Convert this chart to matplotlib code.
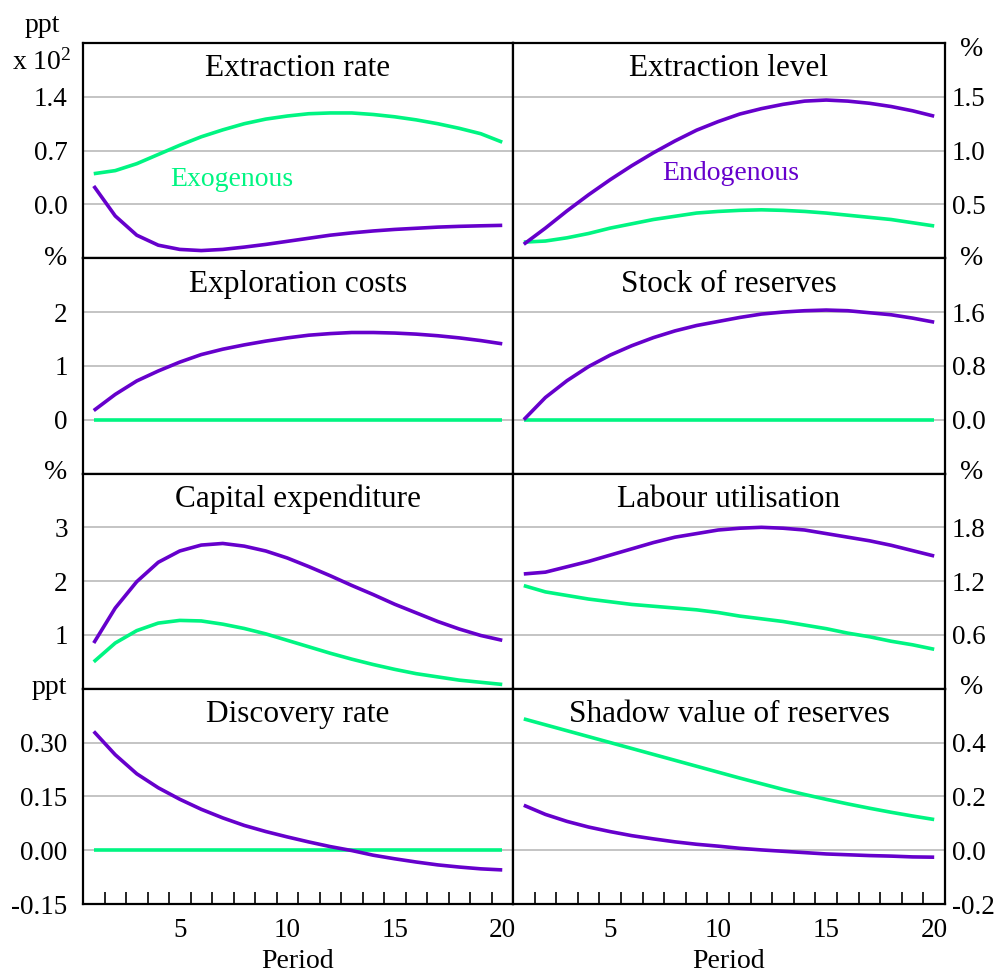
import numpy as np
from matplotlib import pyplot as plt

plt.rcParams['font.family'] = ['Liberation Serif', 'DejaVu Serif']
plt.rcParams['mathtext.fontset'] = 'custom'
plt.rcParams['mathtext.rm'] = 'Liberation Serif'
plt.rcParams['mathtext.it'] = 'Liberation Serif'

periods = list(range(1, 21))

# panel data: exogenous (green) and endogenous (purple)
ext_rate_exo = [0.40, 0.44, 0.53, 0.65, 0.77, 0.88, 0.97, 1.05, 1.11, 1.15,
                1.18, 1.19, 1.19, 1.17, 1.14, 1.10, 1.05, 0.99, 0.92, 0.81]
ext_rate_endo = [0.24, -0.15, -0.40, -0.53, -0.585, -0.60, -0.585, -0.555, -0.52, -0.48,
                 -0.44, -0.40, -0.37, -0.345, -0.325, -0.31, -0.295, -0.285, -0.278, -0.272]

ext_level_exo = [0.15, 0.16, 0.19, 0.23, 0.28, 0.32, 0.36, 0.39, 0.42, 0.435,
                 0.445, 0.45, 0.445, 0.435, 0.42, 0.40, 0.38, 0.36, 0.33, 0.30]
ext_level_endo = [0.13, 0.28, 0.44, 0.59, 0.73, 0.86, 0.98, 1.09, 1.19, 1.27,
                  1.34, 1.39, 1.43, 1.46, 1.47, 1.46, 1.44, 1.41, 1.37, 1.32]

expl_cost_exo = [0.0] * 20
expl_cost_endo = [0.17, 0.47, 0.72, 0.905, 1.07, 1.21, 1.31, 1.39, 1.46, 1.52,
                  1.57, 1.60, 1.62, 1.62, 1.61, 1.59, 1.56, 1.52, 1.47, 1.41]

stock_exo = [0.0] * 20
stock_endo = [0.0, 0.33, 0.58, 0.79, 0.96, 1.10, 1.22, 1.32, 1.40, 1.46,
              1.52, 1.57, 1.60, 1.62, 1.63, 1.62, 1.59, 1.56, 1.51, 1.45]

capex_exo = [0.50, 0.85, 1.08, 1.22, 1.27, 1.26, 1.20, 1.12, 1.02, 0.90,
             0.78, 0.66, 0.55, 0.45, 0.36, 0.28, 0.22, 0.16, 0.12, 0.08]
capex_endo = [0.85, 1.50, 1.99, 2.35, 2.56, 2.67, 2.70, 2.65, 2.56, 2.43,
              2.27, 2.10, 1.92, 1.75, 1.57, 1.41, 1.25, 1.11, 0.99, 0.90]

labour_exo = [1.15, 1.08, 1.04, 1.00, 0.97, 0.94, 0.92, 0.90, 0.88, 0.85,
              0.81, 0.78, 0.75, 0.71, 0.67, 0.62, 0.58, 0.53, 0.49, 0.44]
labour_endo = [1.28, 1.30, 1.36, 1.42, 1.49, 1.56, 1.63, 1.69, 1.73, 1.77,
               1.79, 1.80, 1.79, 1.77, 1.73, 1.69, 1.65, 1.60, 1.54, 1.48]

disc_exo = [0.0] * 20
disc_endo = [0.331, 0.266, 0.213, 0.174, 0.142, 0.114, 0.090, 0.069, 0.052, 0.037,
             0.023, 0.010, -0.001, -0.014, -0.024, -0.033, -0.041, -0.047, -0.052, -0.055]

shadow_exo = [0.488, 0.466, 0.444, 0.422, 0.400, 0.378, 0.356, 0.334, 0.312, 0.290,
              0.268, 0.247, 0.226, 0.207, 0.189, 0.172, 0.156, 0.141, 0.127, 0.114]
shadow_endo = [0.167, 0.133, 0.107, 0.086, 0.069, 0.054, 0.042, 0.031, 0.022, 0.015,
               0.007, 0.001, -0.004, -0.009, -0.014, -0.017, -0.020, -0.022, -0.025, -0.026]

titles = ['Extraction rate', 'Extraction level', 'Exploration costs', 'Stock of reserves',
          'Capital expenditure', 'Labour utilisation', 'Discovery rate', 'Shadow value of reserves']
series = [(ext_rate_exo, ext_rate_endo), (ext_level_exo, ext_level_endo),
          (expl_cost_exo, expl_cost_endo), (stock_exo, stock_endo),
          (capex_exo, capex_endo), (labour_exo, labour_endo),
          (disc_exo, disc_endo), (shadow_exo, shadow_endo)]
ylims = [(-0.7, 2.1), (0, 2.0), (-1, 3), (-0.8, 2.4), (0, 4), (0, 2.4), (-0.15, 0.45), (-0.2, 0.6)]
yticks = [[0.0, 0.7, 1.4], [0.5, 1.0, 1.5], [0, 1, 2], [0.0, 0.8, 1.6],
          [1, 2, 3], [0.6, 1.2, 1.8], [-0.15, 0.0, 0.15, 0.30], [-0.2, 0.0, 0.2, 0.4]]
yfmt = ['%.1f', '%.1f', '%d', '%.1f', '%d', '%.1f', '%.2f', '%.1f']

GREEN = '#00F582'
PURPLE = '#6600CC'

W, H = 999, 975
fig = plt.figure(figsize=(W / 100, H / 100), dpi=100)


def fx(px):
    return px / W


def fy(py):
    return 1 - py / H


x_edges = [83, 513, 945]
y_top = 43
row_h = (904 - 43) / 4

axes = []
for i in range(8):
    r, c = divmod(i, 2)
    x0, x1 = x_edges[c], x_edges[c + 1]
    top = y_top + r * row_h
    ax = fig.add_axes([fx(x0), fy(top + row_h), fx(x1 - x0), row_h / H])
    exo, endo = series[i]
    ax.plot(periods, exo, color=GREEN, lw=2.6, zorder=3, solid_capstyle='butt')
    ax.plot(periods, endo, color=PURPLE, lw=2.6, zorder=4, solid_capstyle='butt')
    ax.set_xlim(0.5, 20.5)
    ax.set_ylim(*ylims[i])
    ax.set_yticks(yticks[i])
    ax.set_yticklabels([yfmt[i] % v for v in yticks[i]])
    ax.grid(axis='y', color='#b4b4b4', lw=1.1)
    ax.set_axisbelow(True)
    for s in ax.spines.values():
        s.set_linewidth(1.6)
    if c == 1:
        ax.yaxis.tick_right()
        ax.tick_params(axis='y', length=0, pad=5, labelsize=19.5)
    else:
        ax.tick_params(axis='y', length=0, pad=11, labelsize=19.5)
    ax.text(0.5, 0.845, titles[i], transform=ax.transAxes, ha='center',
            va='baseline', fontsize=22.5)
    if r == 3:
        ax.set_xticks([5, 10, 15, 20])
        ax.set_xticks(np.arange(1.5, 20, 1.0), minor=True)
        ax.tick_params(axis='x', which='major', length=0, pad=10, labelsize=19.5)
        ax.tick_params(axis='x', which='minor', direction='in', length=9, width=1.2)
    else:
        ax.set_xticks([])
    axes.append(ax)

axes[0].text(7.43, 0.243, 'Exogenous', color=GREEN, ha='center', va='baseline', fontsize=20)
axes[1].text(10.6, 0.726, 'Endogenous', color=PURPLE, ha='center', va='baseline', fontsize=20)

# unit labels
fig.text(fx(42), fy(26), 'ppt', ha='center', va='center', fontsize=20)
fig.text(fx(42), fy(62), r'x 10$^{2}$', ha='center', va='center', fontsize=20)
for py, lab in [(258, '%'), (473, '%'), (688, 'ppt')]:
    fig.text(fx(67), fy(py), lab, ha='right', va='center', fontsize=20)
for py in [50, 258, 473, 688]:
    fig.text(fx(960), fy(py), '%', ha='left', va='center', fontsize=20)

fig.text(fx(298), fy(974), 'Period', ha='center', va='bottom', fontsize=20)
fig.text(fx(729), fy(974), 'Period', ha='center', va='bottom', fontsize=20)

fig.savefig('out.png', dpi=100)
